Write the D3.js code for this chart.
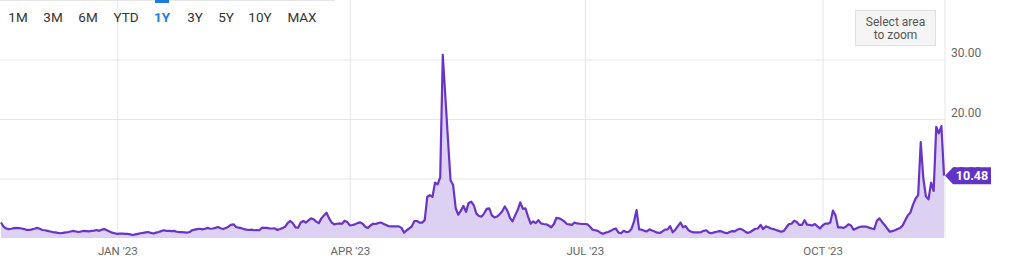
<!DOCTYPE html>
<html>
<head>
<meta charset="utf-8">
<script src="https://cdn.jsdelivr.net/npm/d3@7"></script>
<style>
  html, body { margin: 0; padding: 0; background: #fff; }
  svg { display: block; font-family: Roboto, "Noto Sans", sans-serif; }
</style>
</head>
<body>
<div class="chart"></div>
<script>
// daily values, 17 Nov 2022 .. 17 Nov 2023
const startDate = new Date(2022, 10, 17)
const values = [
  2.6, 1.9, 1.6, 1.5, 1.55, 1.65, 1.7, 1.65, 1.6, 1.5,
  1.35, 1.35, 1.45, 1.55, 1.7, 1.55, 1.35, 1.3, 1.2, 1.1,
  1.0, 0.95, 0.85, 0.8, 0.85, 0.95, 1.0, 1.1, 1.2, 1.1,
  1.0, 1.1, 1.2, 1.15, 1.1, 1.2, 1.25, 1.35, 1.2, 1.4,
  1.5, 1.3, 1.1, 0.9, 0.8, 0.7, 0.75, 0.75, 0.7, 0.7,
  0.6, 0.5, 0.6, 0.7, 0.8, 0.85, 0.95, 1.0, 0.85, 0.75,
  0.9, 1.0, 1.15, 1.3, 1.2, 1.2, 1.15, 1.2, 1.05, 1.0,
  1.0, 0.95, 0.9, 1.0, 1.3, 1.4, 1.5, 1.55, 1.45, 1.55,
  1.7, 1.55, 1.6, 1.7, 1.85, 1.65, 1.5, 1.7, 1.9, 2.2,
  2.3, 1.85, 1.75, 1.65, 1.5, 1.4, 1.35, 1.4, 1.3, 1.35,
  1.3, 1.73, 1.7, 1.7, 1.6, 1.6, 1.63, 1.35, 1.5, 1.7,
  1.9, 2.55, 2.86, 2.46, 1.79, 1.73, 2.6, 2.85, 2.6, 2.95,
  3.3, 3.15, 2.75, 2.5, 3.3, 3.8, 4.25, 3.3, 2.6, 2.3,
  2.4, 2.45, 2.4, 2.9, 2.7, 2.13, 2.18, 2.3, 2.5, 2.63,
  2.4, 1.9, 1.7, 2.1, 2.4, 2.35, 2.5, 2.6, 2.4, 2.2,
  2.0, 1.97, 1.96, 1.96, 1.95, 1.7, 0.9, 1.3, 1.6, 1.95,
  2.86, 2.86, 2.58, 2.58, 3.0, 6.9, 7.2, 6.9, 9.3, 9.0,
  10.2, 30.8, 23.7, 16.6, 9.7, 8.9, 5.0, 3.9, 4.6, 5.4,
  4.4, 5.9, 6.1, 5.5, 4.1, 3.7, 3.6, 4.15, 4.9, 5.0,
  3.8, 3.45, 3.6, 4.0, 4.5, 5.3, 4.6, 3.4, 2.8, 3.8,
  4.7, 6.0, 4.9, 5.0, 3.6, 2.4, 2.8, 2.5, 3.0, 2.45,
  2.35, 2.3, 2.1, 1.8, 2.35, 3.4, 3.3, 3.1, 2.8, 2.35,
  2.3, 2.2, 2.6, 2.45, 2.4, 2.35, 2.35, 2.3, 1.9, 1.4,
  1.3, 1.2, 0.9, 0.7, 0.9, 1.0, 1.2, 1.45, 1.6, 0.9,
  0.8, 1.2, 1.0, 1.05, 1.5, 2.75, 4.7, 1.45, 1.4, 1.2,
  1.1, 1.45, 1.25, 1.1, 0.9, 0.85, 1.1, 1.4, 1.45, 2.0,
  0.95, 1.4, 2.0, 2.6, 1.8, 2.0, 1.35, 1.1, 0.95, 0.95,
  0.95, 1.0, 1.2, 1.3, 0.9, 0.8, 0.95, 1.05, 1.15, 1.1,
  0.9, 0.8, 1.0, 1.15, 1.1, 1.4, 1.55, 1.4, 1.1, 0.85,
  1.0, 1.3, 1.55, 1.6, 2.2, 1.5, 1.95, 1.8, 1.6, 1.5,
  1.35, 1.2, 1.05, 1.2, 1.8, 2.35, 2.4, 2.9, 2.7, 2.2,
  2.2, 3.0, 2.25, 2.2, 2.1, 2.35, 1.95, 1.6, 2.1, 2.4,
  2.4, 2.6, 4.6, 3.8, 1.8, 1.8, 1.7, 1.9, 2.3, 2.1,
  1.4, 1.6, 1.8, 1.9, 1.9, 1.9, 1.75, 1.6, 1.5, 2.9,
  3.3, 2.7, 2.2, 1.6, 1.05, 1.15, 1.3, 1.5, 1.7, 2.1,
  3.0, 3.8, 4.3, 5.6, 6.6, 7.2, 16.1, 10.0, 7.0, 6.5,
  9.3, 7.9, 18.7, 17.6, 18.8, 10.48
]
const monthTicks = [new Date(2023, 0, 1), new Date(2023, 3, 1), new Date(2023, 6, 1), new Date(2023, 9, 1)]
const yTicks = [10, 20, 30]
const ranges = ["1M", "3M", "6M", "YTD", "1Y", "3Y", "5Y", "10Y", "MAX"]
const activeRange = "1Y"

const width = 1024
const height = 262
const plotRight = 945
const plotBottom = 238

const data = values.map(function (v, i) {
  return {date: d3.timeDay.offset(startDate, i), value: v}
})

const svg = d3.select(".chart").append("svg")
  .attr("width", width)
  .attr("height", height)

svg.append("rect").attr("width", width).attr("height", height).attr("fill", "#fff")

const x = d3.scaleTime()
  .domain(d3.extent(data, function (d) { return d.date }))
  .range([1, 944])

const y = d3.scaleLinear()
  .domain([0, 30])
  .range([plotBottom, 59.5])

// grid
svg.append("g")
  .attr("class", "hgrid")
  .call(d3.axisLeft(y).tickValues(yTicks).tickSize(-plotRight).tickFormat(""))
  .call(g => g.select(".domain").remove())
  .selectAll("line").attr("stroke", "#e6e6e6")

svg.append("g")
  .attr("class", "vgrid")
  .attr("transform", "translate(0," + plotBottom + ")")
  .call(d3.axisBottom(x).tickValues(monthTicks).tickSize(-plotBottom).tickFormat(""))
  .call(g => g.select(".domain").remove())
  .selectAll("line").attr("stroke", "#e6e6e6")

svg.append("line")
  .attr("x1", plotRight).attr("x2", plotRight)
  .attr("y1", 0).attr("y2", plotBottom)
  .attr("stroke", "#e6e6e6")

svg.append("line")
  .attr("x1", 0).attr("x2", 335)
  .attr("y1", 0.5).attr("y2", 0.5)
  .attr("stroke", "#e6e6e6")

// area + line
const area = d3.area()
  .x(function (d) { return x(d.date) })
  .y0(y(0))
  .y1(function (d) { return y(d.value) })

const line = d3.line()
  .x(function (d) { return x(d.date) })
  .y(function (d) { return y(d.value) })

svg.append("path")
  .datum(data)
  .attr("d", area)
  .attr("fill", "#dcd0f3")

svg.append("path")
  .datum(data)
  .attr("d", line)
  .attr("fill", "none")
  .attr("stroke", "#6934c8")
  .attr("stroke-width", 2.2)
  .attr("stroke-linejoin", "round")

// axes
const yAxis = svg.append("g")
  .attr("transform", "translate(951,0)")
  .call(d3.axisRight(y).tickValues(yTicks).tickSize(0).tickPadding(0).tickFormat(d3.format(".2f")))
yAxis.select(".domain").remove()
yAxis.selectAll("text")
  .attr("dy", -3)
  .attr("fill", "#666")
  .style("font-size", "12px")
  .style("font-family", "Roboto, sans-serif")

const xAxis = svg.append("g")
  .attr("transform", "translate(0," + plotBottom + ")")
  .call(d3.axisBottom(x).tickValues(monthTicks).tickSize(0).tickPadding(9)
    .tickFormat(function (d) { return d3.timeFormat("%b '%y")(d).toUpperCase() }))
xAxis.select(".domain").remove()
xAxis.selectAll("text")
  .attr("fill", "#666")
  .style("font-size", "11.5px")
  .style("font-family", "Roboto, sans-serif")

// range buttons
const btnX = d3.scalePoint().domain(ranges).range([18, 302])
const btnPos = {"1M": 18, "3M": 53, "6M": 88, "YTD": 126, "1Y": 162, "3Y": 195, "5Y": 226, "10Y": 260, "MAX": 302}

svg.append("rect")
  .attr("x", btnPos[activeRange] - 7).attr("y", 0)
  .attr("width", 14).attr("height", 3)
  .attr("fill", "#1e7be0")

svg.selectAll(".btn")
  .data(ranges)
  .enter()
  .append("text")
  .attr("class", "btn")
  .attr("x", function (d) { return btnPos[d] })
  .attr("y", 21.5)
  .attr("text-anchor", "middle")
  .style("font-size", "13.5px")
  .attr("fill", function (d) { return d === activeRange ? "#1e7be0" : "#333" })
  .style("font-weight", function (d) { return d === activeRange ? "700" : "400" })
  .text(function (d) { return d })

// zoom box
svg.append("rect")
  .attr("x", 855.5).attr("y", 10.5)
  .attr("width", 80).attr("height", 35)
  .attr("fill", "#f5f5f5")
  .attr("stroke", "#e0e0e0")

svg.selectAll(".zt")
  .data(["Select area", "to zoom"])
  .enter()
  .append("text")
  .attr("x", 895.5)
  .attr("y", function (d, i) { return 25.5 + i * 13 })
  .attr("text-anchor", "middle")
  .attr("fill", "#555")
  .style("font-size", "12px")
  .text(function (d) { return d })

// last value label
const last = data[data.length - 1]
const ly = y(last.value)
svg.append("path")
  .attr("d", "M" + plotRight + "," + ly + "L953," + (ly - 8.5) + "L991," + (ly - 8.5) +
    "L991," + (ly + 8.5) + "L953," + (ly + 8.5) + "Z")
  .attr("fill", "#6133c4")

svg.append("text")
  .attr("x", 972)
  .attr("y", ly + 4.5)
  .attr("text-anchor", "middle")
  .attr("fill", "#fff")
  .style("font-size", "12.5px")
  .style("font-weight", "700")
  .text(d3.format(".2f")(last.value))
</script>
</body>
</html>
